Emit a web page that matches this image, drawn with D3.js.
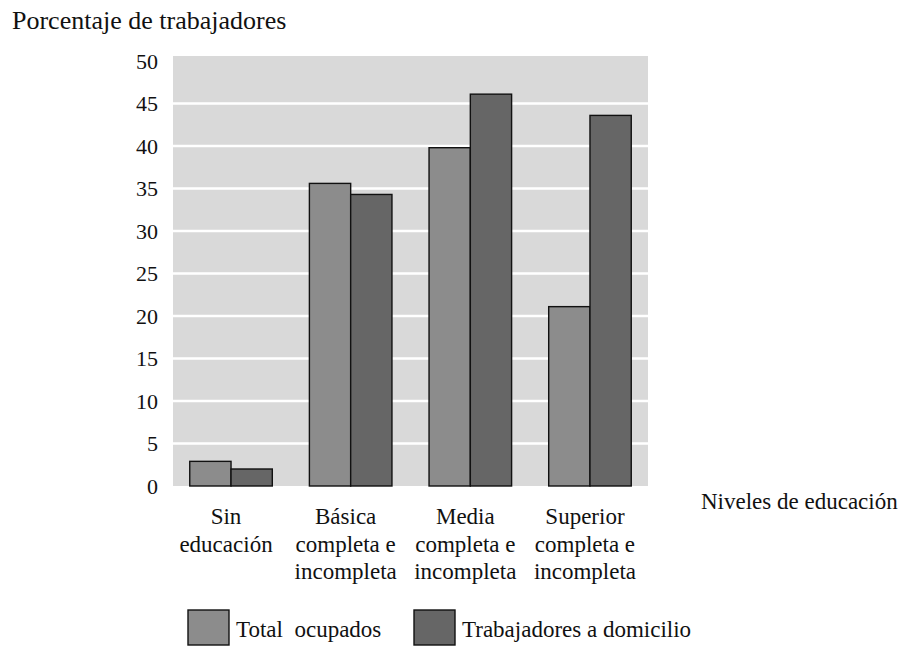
<!DOCTYPE html>
<html>
<head>
<meta charset="utf-8">
<script src="https://cdn.jsdelivr.net/npm/d3@7"></script>
<style>
  body { margin: 0; background: #fff; }
  .serif { font-family: "Liberation Serif"; }
</style>
</head>
<body>
<svg id="chart" width="902" height="646"></svg>
<script>
const categories = [
  ["Sin", "educación"],
  ["Básica", "completa e", "incompleta"],
  ["Media", "completa e", "incompleta"],
  ["Superior", "completa e", "incompleta"]
];
const seriesNames = ["Total\u00a0 ocupados", "Trabajadores a domicilio"];
const totalOcupados = [2.9, 35.6, 39.8, 21.1];
const trabajadoresDomicilio = [2.0, 34.3, 46.1, 43.6];
const yTicks = [0, 5, 10, 15, 20, 25, 30, 35, 40, 45, 50];

const colors = ["#8c8c8c", "#666666"];

const svg = d3.select("#chart");
const margin = { top: 61, right: 254, bottom: 160, left: 173 };
const width = 902 - margin.left - margin.right;
const height = 646 - margin.top - margin.bottom;

// every text goes through here so the serif face sticks
function serifText(sel, size) {
  return sel
    .attr("font-family", "Liberation Serif")
    .attr("style", `font-family: "Liberation Serif" !important; font-size: ${size}px;`)
    .attr("fill", "#111");
}

const data = categories.map((c, i) => ({
  key: i,
  label: c,
  values: [totalOcupados[i], trabajadoresDomicilio[i]]
}));

const x0 = d3.scaleBand()
  .domain(data.map(d => d.key))
  .range([margin.left, margin.left + width])
  .paddingInner(0.31)
  .paddingOuter(0.14);

const x1 = d3.scaleBand()
  .domain([0, 1])
  .range([0, x0.bandwidth()]);

const y = d3.scaleLinear()
  .domain([0, 50])
  .range([margin.top + height, margin.top]);

// plot background
svg.append("rect")
  .attr("x", margin.left)
  .attr("y", y(50) - 5)
  .attr("width", width)
  .attr("height", y(0) - y(50) + 5)
  .attr("fill", "#d9d9d9");

// white gridlines
svg.selectAll(".grid")
  .data(yTicks.filter(t => t > 0 && t < 50))
  .enter()
  .append("line")
  .attr("class", "grid")
  .attr("x1", margin.left)
  .attr("x2", margin.left + width)
  .attr("y1", d => y(d))
  .attr("y2", d => y(d))
  .attr("stroke", "#fff")
  .attr("stroke-width", 2.6);

// Y labels
svg.selectAll(".yt")
  .data(yTicks)
  .enter()
  .append("text")
  .attr("class", "serif yt")
  .attr("x", margin.left - 15)
  .attr("y", d => y(d))
  .attr("dy", "0.35em")
  .attr("text-anchor", "end")
  .call(serifText, 22)
  .text(d => d);

// Bars
const bars = data.flatMap(d => d.values.map((v, j) => ({ key: d.key, j, v })));
svg.selectAll(".bar")
  .data(bars)
  .enter()
  .append("rect")
  .attr("class", "bar")
  .attr("x", d => x0(d.key) + x1(d.j))
  .attr("y", d => y(d.v))
  .attr("width", x1.bandwidth())
  .attr("height", d => y(0) - y(d.v))
  .attr("fill", d => colors[d.j])
  .attr("stroke", "#111")
  .attr("stroke-width", 1.4);

// category names, one text per line
const labelLines = data.flatMap(d => d.label.map((line, k) => ({ key: d.key, k, line })));
svg.selectAll(".xc")
  .data(labelLines)
  .enter()
  .append("text")
  .attr("class", "serif xc")
  .attr("x", d => x0(d.key) + x0.bandwidth() / 2 - 5)
  .attr("y", d => y(0) + 38 + d.k * 27.5)
  .attr("text-anchor", "middle")
  .call(serifText, 23)
  .text(d => d.line);

// axis titles
svg.append("text")
  .attr("class", "serif")
  .attr("x", 12)
  .attr("y", 29)
  .call(serifText, 26)
  .text("Porcentaje de trabajadores");

svg.append("text")
  .attr("class", "serif")
  .attr("x", 701)
  .attr("y", 509)
  .call(serifText, 23)
  .text("Niveles de educación");

// key
const keyX = [188, 414];
svg.selectAll(".kb")
  .data(seriesNames)
  .enter()
  .append("rect")
  .attr("class", "kb")
  .attr("x", (d, i) => keyX[i])
  .attr("y", 610)
  .attr("width", 41)
  .attr("height", 35)
  .attr("fill", (d, i) => colors[i])
  .attr("stroke", "#111")
  .attr("stroke-width", 1.4);

svg.selectAll(".kt")
  .data(seriesNames)
  .enter()
  .append("text")
  .attr("class", "serif kt")
  .attr("x", (d, i) => keyX[i] + 48)
  .attr("y", 637)
  .call(serifText, 23)
  .text(d => d);
</script>
</body>
</html>
